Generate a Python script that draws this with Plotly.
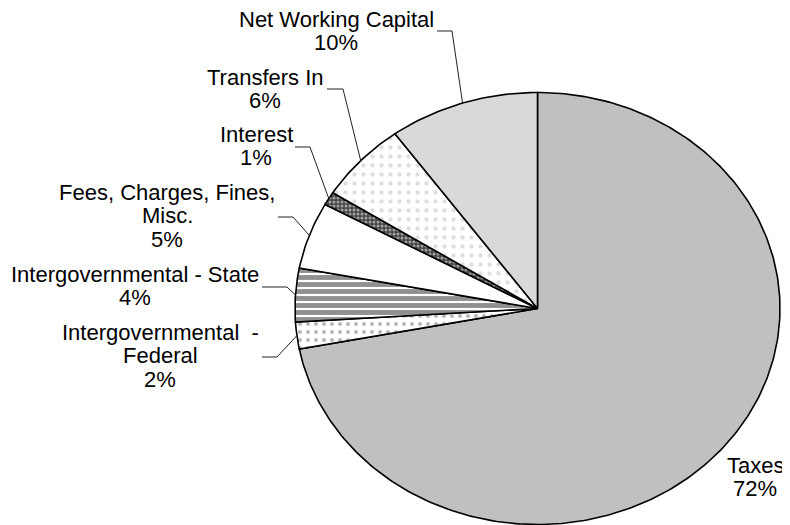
import numpy as np
import plotly.graph_objects as go

# ---- data ----
categories = ["Taxes", "Intergovernmental - Federal", "Intergovernmental - State",
              "Fees, Charges, Fines, Misc.", "Interest", "Transfers In", "Net Working Capital"]
values = [72, 2, 4, 5, 1, 6, 10]
label_lines = [["Taxes"], ["Intergovernmental  -", "Federal"], ["Intergovernmental - State"],
               ["Fees, Charges, Fines,", "Misc."], ["Interest"], ["Transfers In"],
               ["Net Working Capital"]]

# ---- styling / layout (pixel space of the 790x525 window) ----
W, H = 790, 525
PAGE_MARGIN = 8  # default body margin of the html page
cx, cy, rx, ry = 537.5, 308.5, 242.5, 216.0
FONT = dict(family="Liberation Sans, Arial, sans-serif", size=22, color="black")
LINE_H = 23.5

fills = [
    dict(fillcolor="#c0c0c0", pattern=None),
    dict(fillcolor="white", pattern=dict(shape=".", fgcolor="#6e6e6e", bgcolor="white", size=8, solidity=0.2)),
    dict(fillcolor="white", pattern=dict(shape="-", fgcolor="#222222", bgcolor="white", size=7, solidity=0.7)),
    dict(fillcolor="white", pattern=None),
    dict(fillcolor="#505050", pattern=dict(shape=".", fgcolor="white", bgcolor="#444444", size=4, solidity=0.45)),
    dict(fillcolor="white", pattern=dict(shape=".", fgcolor="#bdbdbd", bgcolor="white", size=9, solidity=0.18)),
    dict(fillcolor="#d9d9dc", pattern=None),
]

# label placement: center x, first baseline y
label_pos = [(755, 473), (160, 340), (135, 282), (167, 200), (256, 142), (265, 85), (336, 27)]
# leader elbows (horizontal segment), None for no leader
leaders = [None, [(262, 357), (277, 357)], [(262, 287), (287, 287)], [(278, 217), (293, 217)],
           [(295, 147), (310, 147)], [(327, 89), (343, 89)], [(437, 31), (452, 31)]]


def pt(frac, scale=1.0):
    a = 2 * np.pi * np.asarray(frac)
    return cx + scale * rx * np.sin(a), cy - scale * ry * np.cos(a)


fig = go.Figure()
total = float(sum(values))
cum = np.concatenate([[0], np.cumsum(values)]) / total

for i, cat in enumerate(categories):
    f0, f1 = cum[i], cum[i + 1]
    t = np.linspace(f0, f1, max(8, int((f1 - f0) * 400)))
    ax, ay = pt(t)
    xs = np.concatenate([[cx], ax, [cx]])
    ys = np.concatenate([[cy], ay, [cy]])
    kw = dict(x=xs, y=ys, mode="lines", fill="toself", fillcolor=fills[i]["fillcolor"],
              line=dict(color="black", width=1.6), name=cat, hoverinfo="name", showlegend=False)
    if fills[i]["pattern"] is not None:
        kw["fillpattern"] = fills[i]["pattern"]
    fig.add_trace(go.Scatter(**kw))

# leader lines and labels
annotations = []
for i, cat in enumerate(categories):
    mid = (cum[i] + cum[i + 1]) / 2
    if leaders[i] is not None:
        ex, ey = pt(mid)
        lx = [leaders[i][0][0], leaders[i][1][0], float(ex)]
        ly = [leaders[i][0][1], leaders[i][1][1], float(ey)]
        fig.add_trace(go.Scatter(x=lx, y=ly, mode="lines", line=dict(color="#222222", width=1),
                                 hoverinfo="skip", showlegend=False))
    lines = label_lines[i] + [f"{values[i]}%"]
    x0, b0 = label_pos[i]
    for k, txt in enumerate(lines):
        annotations.append(dict(x=x0, y=b0 + k * LINE_H - 0.3465 * FONT["size"], xref="x", yref="y",
                                text=txt, showarrow=False, xanchor="center", yanchor="middle",
                                font=FONT))

fig.update_layout(
    width=W - PAGE_MARGIN, height=H - PAGE_MARGIN, margin=dict(l=0, r=0, t=0, b=0),
    paper_bgcolor="white", plot_bgcolor="white",
    xaxis=dict(range=[PAGE_MARGIN, W], visible=False, fixedrange=True),
    yaxis=dict(range=[H, PAGE_MARGIN], visible=False, fixedrange=True),
    annotations=annotations, showlegend=False,
)

fig.write_html("out.html")
